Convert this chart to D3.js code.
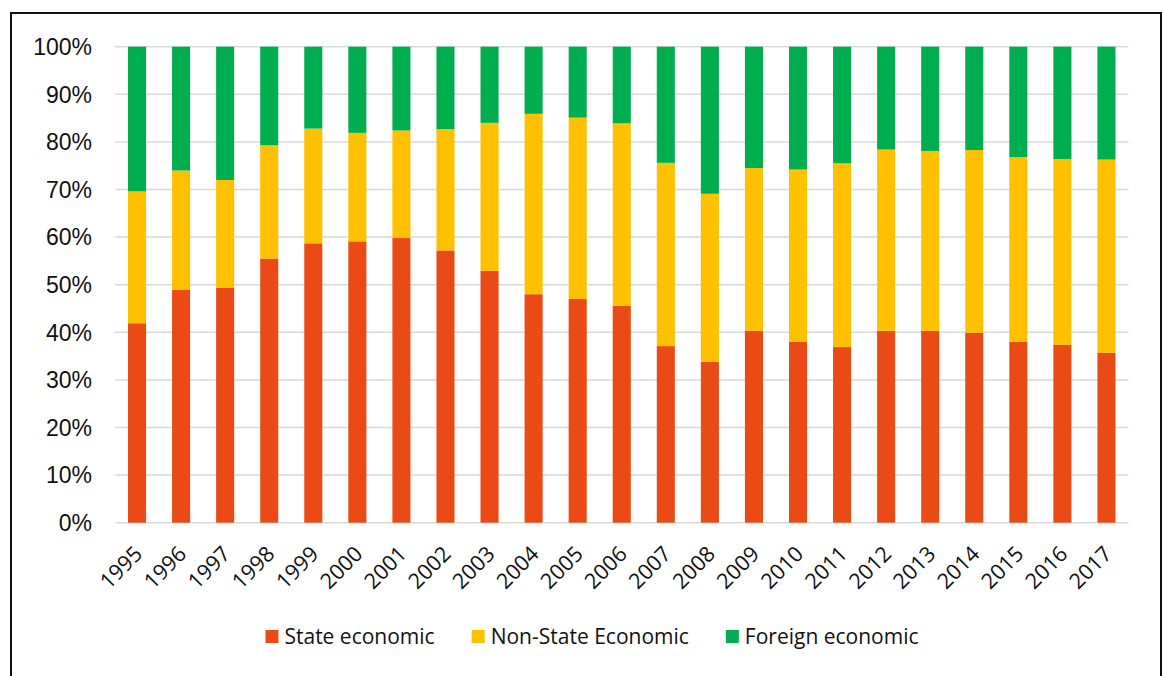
<!DOCTYPE html>
<html lang="en">
<head>
    <meta charset="UTF-8">
    <title>State / Non-State / Foreign economic shares, 1995-2017</title>
    <style>
        body {
            margin: 0;
            background: #fff;
        }
        .grid line {
            stroke: #d9d9d9;
            stroke-width: 1.5px;
        }
        .y-label {
            font-family: "Liberation Sans", Arial, sans-serif;
            font-size: 23px;
            fill: #111;
        }
        .x-label {
            font-family: "Open Sans", sans-serif;
            font-size: 21.5px;
            fill: #111;
        }
        .legend text {
            font-family: "Open Sans", sans-serif;
            font-size: 21px;
            fill: #111;
        }
    </style>
</head>
<body>
    <svg id="chart" width="1163" height="676"></svg>
    <script src="https://d3js.org/d3.v7.min.js"></script>
    <script>
        const years = ["1995", "1996", "1997", "1998", "1999", "2000", "2001", "2002", "2003", "2004", "2005", "2006",
            "2007", "2008", "2009", "2010", "2011", "2012", "2013", "2014", "2015", "2016", "2017"];
        const stateShare = [41.9, 48.9, 49.4, 55.5, 58.7, 59.1, 59.8, 57.2, 52.9, 48.0, 47.0, 45.6,
            37.1, 33.8, 40.3, 38.0, 36.9, 40.3, 40.3, 39.9, 38.0, 37.4, 35.7];
        const nonStateShare = [27.7, 25.1, 22.6, 23.8, 24.1, 22.8, 22.6, 25.5, 31.1, 37.9, 38.1, 38.3,
            38.5, 35.3, 34.2, 36.2, 38.6, 38.1, 37.8, 38.4, 38.8, 39.0, 40.6];
        const foreignShare = stateShare.map((s, i) => +(100 - s - nonStateShare[i]).toFixed(1));
        const seriesNames = ["State economic", "Non-State Economic", "Foreign economic"];
        const seriesColors = ["#ea4a16", "#ffc000", "#00ae4f"];
        const yTicks = [0, 10, 20, 30, 40, 50, 60, 70, 80, 90, 100];

        const svg = d3.select("#chart");

        // outer frame (runs off the bottom of the picture)
        svg.append("rect")
            .attr("x", 11).attr("y", 13)
            .attr("width", 1150).attr("height", 700)
            .attr("fill", "none")
            .attr("stroke", "#111")
            .attr("stroke-width", 2);

        const plot = { left: 115, right: 1128.5, top: 46.7, bottom: 522.7 };

        const x = d3.scaleBand()
            .domain(years)
            .range([plot.left, plot.right])
            .paddingInner(0.59)
            .paddingOuter(0.295);

        const y = d3.scaleLinear()
            .domain([0, 100])
            .range([plot.bottom, plot.top]);

        // gridlines
        svg.append("g").attr("class", "grid")
            .selectAll("line")
            .data(yTicks)
            .join("line")
            .attr("x1", plot.left).attr("x2", plot.right)
            .attr("y1", d => y(d)).attr("y2", d => y(d));

        // y labels
        svg.append("g")
            .selectAll("text")
            .data(yTicks)
            .join("text")
            .attr("class", "y-label")
            .attr("x", 92)
            .attr("y", d => y(d))
            .attr("dy", "0.36em")
            .attr("text-anchor", "end")
            .text(d => d + "%");

        // stacked bars
        const rows = years.map((yr, i) => ({
            year: yr,
            s0: stateShare[i],
            s1: nonStateShare[i],
            s2: foreignShare[i]
        }));
        const stack = d3.stack().keys(["s0", "s1", "s2"]);
        const layers = stack(rows);

        svg.append("g")
            .selectAll("g")
            .data(layers)
            .join("g")
            .attr("fill", (d, i) => seriesColors[i])
            .selectAll("rect")
            .data(d => d)
            .join("rect")
            .attr("x", d => x(d.data.year))
            .attr("width", x.bandwidth())
            .attr("y", d => y(d[1]))
            .attr("height", d => y(d[0]) - y(d[1]));

        // x labels, rotated
        svg.append("g")
            .selectAll("text")
            .data(years)
            .join("text")
            .attr("class", "x-label")
            .attr("text-anchor", "end")
            .attr("transform", d => `translate(${x(d) + x.bandwidth() / 2 - 4},${plot.bottom + 22}) rotate(-45)`)
            .attr("dy", "0.7em")
            .text(d => d);

        // legend
        const legend = svg.append("g").attr("class", "legend");
        const items = legend.selectAll("g")
            .data(seriesNames)
            .join("g");
        items.append("rect")
            .attr("width", 13).attr("height", 13)
            .attr("y", -7)
            .attr("fill", (d, i) => seriesColors[i]);
        items.append("text")
            .attr("x", 19)
            .attr("dy", "0.35em")
            .text(d => d);

        let cursor = 0;
        items.each(function () {
            const w = 19 + d3.select(this).select("text").node().getComputedTextLength();
            d3.select(this).attr("transform", `translate(${cursor},0)`);
            cursor += w + 37;
        });
        const legendWidth = cursor - 37;
        legend.attr("transform", `translate(${592 - legendWidth / 2},637)`);
    </script>
</body>
</html>
